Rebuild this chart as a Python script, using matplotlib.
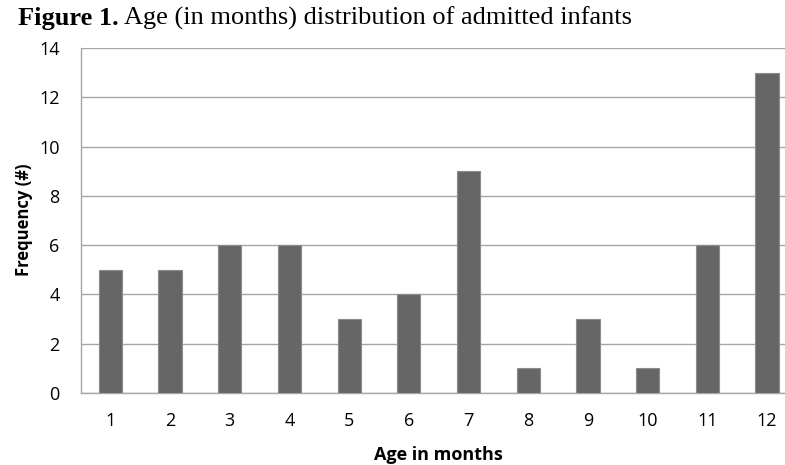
import matplotlib.pyplot as plt
import numpy as np

ages = ['1', '2', '3', '4', '5', '6', '7', '8', '9', '10', '11', '12']
counts = [5, 5, 6, 6, 3, 4, 9, 1, 3, 1, 6, 13]

W, H = 785, 465
fig = plt.figure(figsize=(W / 100, H / 100), dpi=100)

# axes run past the right edge, as in the cropped original
ax = fig.add_axes([80.5 / W, (H - 393) / H, 716.4 / W, 345 / H])
x = np.arange(len(ages))
ax.bar(x, counts, width=0.39, color='#666666', edgecolor='#8c8c8c', linewidth=0.8, zorder=3)

ax.set_xlim(-0.5, len(ages) - 0.5)
ax.set_ylim(0, 14)
ax.set_yticks(range(0, 15, 2))
ax.set_xticks(x)
ax.set_xticklabels(ages)

ax.grid(axis='y', color='#a6a6a6', linewidth=1.0, zorder=0)
for s in ['top', 'right']:
    ax.spines[s].set_visible(False)
for s in ['left', 'bottom']:
    ax.spines[s].set_color('#a6a6a6')
    ax.spines[s].set_linewidth(1.0)
ax.tick_params(length=0, labelsize=13, colors='black')
ax.tick_params(axis='y', pad=15)
ax.tick_params(axis='x', pad=14)
for lab in ax.get_xticklabels() + ax.get_yticklabels():
    lab.set_fontfamily('Open Sans')

fig.text((80.5 + 358) / W, (H - 455) / H, 'Age in months', ha='center', va='center',
         fontfamily='Open Sans', fontweight='bold', fontsize=13)
fig.text(24 / W, (H - 220) / H, 'Frequency (#)', ha='center', va='center', rotation=90,
         fontfamily='Open Sans', fontweight='bold', fontsize=12)

t1 = fig.text(18 / W, (H - 25) / H, 'Figure 1.', ha='left', va='baseline',
              fontfamily='Liberation Serif', fontweight='bold', fontsize=19)
fig.canvas.draw()
bb = t1.get_window_extent()
fig.text(bb.x1 / W + 5 / W, (H - 25) / H, 'Age (in months) distribution of admitted infants',
         ha='left', va='baseline', fontfamily='Liberation Serif', fontsize=19)

fig.savefig('out.png', dpi=100)
